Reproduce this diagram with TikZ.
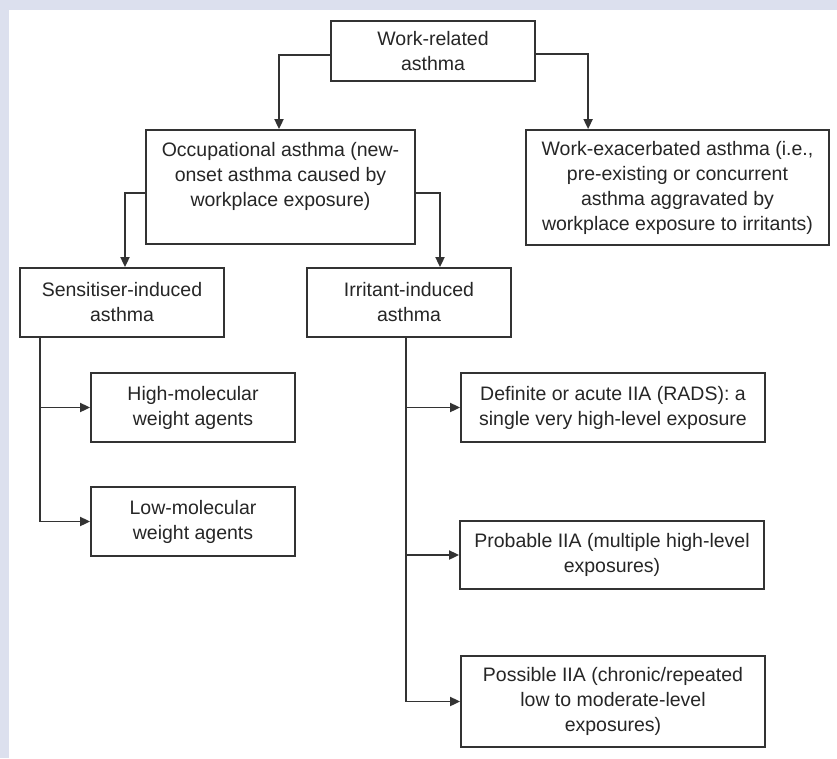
\documentclass[tikz,border=0pt]{standalone}
\usepackage{fontspec}
\setmainfont{Liberation Sans}
\usetikzlibrary{arrows.meta}
\definecolor{bgblue}{HTML}{DCE0EE}
\definecolor{linegray}{HTML}{333333}
\definecolor{textgray}{HTML}{262626}
\tikzset{
  box/.style={draw=linegray, line width=1.8pt, fill=white, rectangle, align=center,
    text=textgray, inner sep=0pt, font=\fontsize{19.5}{25}\selectfont},
  arr/.style={draw=linegray, line width=1.8pt, -{Triangle[length=10pt,width=9pt]}},
}
\begin{document}
\begin{tikzpicture}[x=1pt,y=-1pt]
\useasboundingbox (0,0) rectangle (837,758);
\fill[bgblue] (0,0) rectangle (837,758);
\fill[white] (9,10) rectangle (837,758);

\node[box, minimum width=204pt, minimum height=60pt] (b1) at (433,51) {Work-related\\asthma};
\node[box, minimum width=269pt, minimum height=114pt] (b2) at (280.5,187) {Occupational asthma (new-\\onset asthma caused by\\workplace exposure)\\\mbox{}};
\node[box, minimum width=303pt, minimum height=115pt] (b3) at (677.5,187.5) {Work-exacerbated asthma (i.e.,\\pre-existing or concurrent\\asthma aggravated by\\workplace exposure to irritants)};
\node[box, minimum width=204pt, minimum height=69pt] (b4) at (122,302.5) {Sensitiser-induced\\asthma};
\node[box, minimum width=204pt, minimum height=69pt] (b5) at (409,302.5) {Irritant-induced\\asthma};
\node[box, minimum width=204pt, minimum height=69pt] (b6) at (193,407.5) {High-molecular\\weight agents};
\node[box, minimum width=204pt, minimum height=69pt] (b7) at (193,521.5) {Low-molecular\\weight agents};
\node[box, minimum width=304pt, minimum height=69pt] (b8) at (613,407.5) {Definite or acute IIA (RADS): a\\single very high-level exposure};
\node[box, minimum width=304pt, minimum height=68pt] (b9) at (612,555) {Probable IIA (multiple high-level\\exposures)};
\node[box, minimum width=304pt, minimum height=91pt] (b10) at (613,701.5) {Possible IIA (chronic/repeated\\low to moderate-level\\exposures)};

\draw[arr] ([yshift=-4pt]b1.west) -| ([xshift=-1.5pt]b2.north);
\draw[arr] ([yshift=-3pt]b1.east) -| ([xshift=63pt]b3.north west);
\draw[arr] ([yshift=-6pt]b2.west) -| ([xshift=3pt]b4.north);
\draw[arr] ([yshift=-6pt]b2.east) -| ([xshift=31pt]b5.north);
\draw[arr] ([xshift=-82pt]b4.south) |- (b6.west);
\draw[arr] ([xshift=-82pt]b4.south) |- (b7.west);
\draw[arr] ([xshift=-3pt]b5.south) |- (b8.west);
\draw[arr] ([xshift=-3pt]b5.south) |- (b9.west);
\draw[arr] ([xshift=-3pt]b5.south) |- (b10.west);
\end{tikzpicture}
\end{document}
